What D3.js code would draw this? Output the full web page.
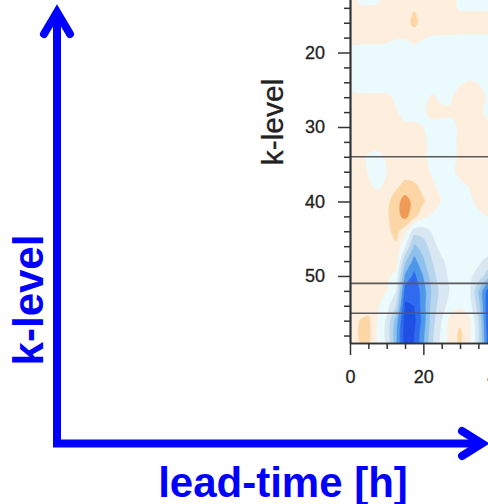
<!DOCTYPE html>
<html>
<head>
<meta charset="utf-8">
<script src="https://cdn.jsdelivr.net/npm/d3@7"></script>
<style>
  html, body { margin: 0; padding: 0; background: #ffffff; }
  svg { display: block; }
  text { font-family: "Liberation Sans", Arial, Helvetica, sans-serif; }
</style>
</head>
<body>
<svg id="chart" width="488" height="504"></svg>
<script>
// ---------------- data ----------------
const leadTimes = [0, 2.5, 5, 7.5, 10, 12.5, 15, 17.5, 20, 22.5, 25, 27.5, 30, 32.5, 35, 37.5, 40];
const kLevels = [12, 14, 16, 18, 20, 22, 24, 26, 28, 30, 32, 34, 36, 38, 40, 42, 44, 46, 48, 50, 52, 54, 56, 58, 60];
// anomaly field: one row per k-level, one value per lead time
const field = [
  [0.3, -0.3, -0.3, -0.3, 0.2, 0.3, 0.4, 0.4, 0.3, 0.3, 0.3, 0.2, -0.2, -0.3, -0.3, -0.3, -0.2], // k12
  [0.3, 0.1, 0.05, 0.1, 0.3, 0.4, 0.5, 0.9, 0.5, 0.4, 0.3, 0.2, -0.1, -0.1, -0.1, -0.1, 0.1],    // k14
  [0.4, 0.4, 0.4, 0.5, 0.5, 0.5, 0.5, 1.3, 0.5, 0.5, 0.5, 0.4, 0.3, 0.3, 0.3, 0.3, 0.3],          // k16
  [0.25, 0.25, 0.25, 0.25, 0.2, 0.05, 0.05, 0.3, 0.05, -0.1, -0.1, -0.1, -0.1, -0.1, -0.1, -0.1, -0.1], // k18
  [-0.3, -0.3, -0.35, -0.35, -0.35, -0.4, -0.4, -0.4, -0.4, -0.4, -0.4, -0.35, -0.35, -0.35, -0.35, -0.35, -0.35], // k20
  [-0.4, -0.4, -0.4, -0.4, -0.4, -0.4, -0.4, -0.4, -0.4, -0.4, -0.4, -0.4, -0.3, -0.3, -0.3, -0.4, -0.4], // k22
  [-0.2, -0.3, -0.3, -0.3, -0.3, -0.4, -0.4, -0.4, -0.4, -0.4, -0.3, -0.2, -0.1, 0.05, -0.05, -0.3, -0.3], // k24
  [0.1, 0.1, 0.1, 0.1, 0.1, -0.1, -0.3, -0.3, -0.2, 0.1, -0.2, -0.1, 0.3, 0.4, 0.3, -0.1, -0.2],  // k26
  [0.4, 0.4, 0.4, 0.35, 0.3, 0.05, -0.2, -0.2, -0.1, 0.2, 0.2, 0.1, 0.2, 0.2, 0.1, -0.1, -0.1],   // k28
  [0.4, 0.4, 0.4, 0.35, 0.2, 0.1, 0.1, 0.1, 0.0, -0.2, -0.3, -0.2, 0.1, 0.2, 0.2, 0.1, 0.1],      // k30
  [0.4, 0.3, 0.3, 0.3, 0.3, 0.3, 0.3, 0.2, 0.1, -0.2, -0.3, -0.2, 0.1, 0.3, 0.3, 0.3, 0.3],       // k32
  [0.4, 0.2, -0.1, -0.2, 0.1, 0.3, 0.3, 0.3, 0.1, -0.2, -0.3, -0.2, 0.1, 0.2, 0.3, 0.3, 0.3],     // k34
  [0.4, 0.3, -0.05, -0.2, 0.0, 0.3, 0.6, 0.5, 0.2, -0.1, -0.2, -0.1, 0.1, 0.2, 0.3, 0.3, 0.3],    // k36
  [0.4, 0.3, 0.1, -0.1, 0.1, 0.8, 1.3, 1.2, 0.7, 0.1, -0.2, -0.2, -0.1, 0.0, 0.2, 0.2, 0.2],      // k38
  [0.4, 0.4, 0.3, 0.3, 0.7, 1.5, 2.5, 1.6, 1.1, 0.6, -0.1, -0.3, -0.3, -0.1, 0.1, 0.1, 0.1],      // k40
  [0.4, 0.4, 0.3, 0.3, 0.8, 1.6, 2.3, 1.3, 0.2, -0.2, -0.2, -0.3, -0.3, -0.2, -0.1, 0.0, 0.0],    // k42
  [0.4, 0.4, 0.3, 0.3, 0.6, 1.4, 0.3, -1.6, -1.5, -0.9, -0.4, -0.3, -0.3, -0.2, -0.1, -0.1, 0.0], // k44
  [0.4, 0.4, 0.3, 0.3, 0.4, 0.8, -0.9, -3.2, -2.6, -1.4, -0.6, -0.4, -0.3, -0.3, -0.2, -0.3, -0.2], // k46
  [0.4, 0.4, 0.3, 0.3, 0.4, 0.5, -2.8, -4.4, -3.2, -2.0, -1.2, -0.6, -0.4, -0.5, -0.8, -1.3, -1.5], // k48
  [0.4, 0.4, 0.3, 0.2, 0.2, -0.3, -4.2, -5.3, -4.0, -2.4, -1.4, -0.8, -0.6, -0.8, -1.4, -2.5, -3.0], // k50
  [0.4, 0.4, 0.3, 0.2, 0.0, -1.0, -5.5, -5.8, -4.5, -2.8, -1.6, -0.9, -0.6, -0.8, -3.0, -5.4, -5.6], // k52
  [0.3, 0.6, 0.6, 0.1, -0.6, -2.0, -6.2, -6.0, -4.5, -2.6, -1.4, -0.6, -0.2, -0.5, -2.5, -5.8, -6.2], // k54
  [0.2, 1.0, 1.2, -0.1, -1.2, -3.5, -6.5, -6.3, -4.6, -2.4, -1.0, 0.4, 0.8, 0.2, -2.0, -5.8, -6.5], // k56
  [0.1, 1.1, 1.3, -0.2, -1.3, -3.8, -6.6, -6.0, -4.3, -2.2, -0.8, 0.5, 1.2, 0.3, -1.8, -5.5, -6.5], // k58
  [0.1, 0.8, 1.0, -0.2, -1.2, -3.8, -6.6, -6.0, -4.4, -2.0, -0.7, 0.3, 1.0, 0.2, -2.0, -5.5, -6.5]  // k60
];
const thresholds = [-6, -5, -4, -3, -2, -1, 0, 1, 2];
const bandColors = ["#2e6bef", "#4f97e8", "#8fc1ec", "#b7d6ee", "#d8e7f2", "#ebfafd", "#fdeedd", "#fcd6a4", "#ef9b57"];
const lowestColor = "#1f4fe3";
const refLevels = [34, 51, 55];
const xMajorTicks = [0, 20, 40];
const xMinorTicks = [5, 10, 15, 25, 30, 35];
const yMajorTicks = [20, 30, 40, 50];
const yMinorTicks = [2, 4, 6, 8, 10, 12, 14, 16, 18, 22, 24, 26, 28, 32, 34, 36, 38, 42, 44, 46, 48, 52, 54, 56, 58];

// ---------------- layout ----------------
const svg = d3.select("#chart");
const plot = { left: 350, bottom: 343, top: -89, right: 496.7 };
const x = d3.scaleLinear().domain([0, 40]).range([plot.left, plot.right]);
const y = d3.scaleLinear().domain([1, 59]).range([plot.top, plot.bottom]);

svg.append("defs").append("clipPath").attr("id", "plotClip")
  .append("rect")
  .attr("x", x(0)).attr("y", y(1))
  .attr("width", x(40) - x(0)).attr("height", y(59) - y(1));

const gPlot = svg.append("g").attr("clip-path", "url(#plotClip)");

gPlot.append("rect")
  .attr("x", x(0)).attr("y", y(1))
  .attr("width", x(40) - x(0)).attr("height", y(59) - y(1))
  .attr("fill", lowestColor);

const nx = leadTimes.length, ny = kLevels.length;
const dt = leadTimes[1] - leadTimes[0], dk = kLevels[1] - kLevels[0];
const contours = d3.contours().size([nx, ny]).thresholds(thresholds)(field.flat());
const gridX = u => x(leadTimes[0] + (u - 0.5) * dt);
const gridY = v => y(kLevels[0] + (v - 0.5) * dk);
const ringLine = d3.line().curve(d3.curveCatmullRomClosed.alpha(0.5));
const contourPath = c => c.coordinates
  .flatMap(poly => poly.map(ring => ringLine(ring.slice(0, -1).map(([u, v]) => [gridX(u), gridY(v)]))))
  .join("");

gPlot.selectAll("path.band").data(contours).join("path")
  .attr("class", "band")
  .attr("d", contourPath)
  .attr("fill", (d, i) => bandColors[i])
  .attr("stroke", (d, i) => bandColors[i])
  .attr("stroke-width", 0.5);

gPlot.selectAll("line.ref").data(refLevels).join("line")
  .attr("class", "ref")
  .attr("x1", x(0)).attr("x2", x(40))
  .attr("y1", d => y(d)).attr("y2", d => y(d))
  .attr("stroke", "#5a5a5a").attr("stroke-width", 1.6);

// ---------------- axes ----------------
const axisColor = "#333";
function styleAxis(g) {
  g.selectAll("path.domain").attr("stroke", axisColor).attr("stroke-width", 1.7);
  g.selectAll(".tick line").attr("stroke", axisColor).attr("stroke-width", 1.5);
  g.selectAll(".tick text").attr("fill", "#222").attr("font-size", 18)
    .attr("stroke", "#222").attr("stroke-width", 0.3)
    .style("font-family", '"Liberation Sans", Arial, sans-serif');
}

const yMinorG = svg.append("g").attr("transform", `translate(${plot.left},0)`)
  .call(d3.axisLeft(y).tickValues(yMinorTicks).tickSize(6).tickSizeOuter(0).tickFormat(""));
styleAxis(yMinorG);
const yMajorG = svg.append("g").attr("transform", `translate(${plot.left},0)`)
  .call(d3.axisLeft(y).tickValues(yMajorTicks).tickSize(12).tickSizeOuter(0).tickPadding(13));
styleAxis(yMajorG);

const xMinorG = svg.append("g").attr("transform", `translate(0,${plot.bottom})`)
  .call(d3.axisBottom(x).tickValues(xMinorTicks).tickSize(6).tickSizeOuter(0).tickFormat(""));
styleAxis(xMinorG);
const xMajorG = svg.append("g").attr("transform", `translate(0,${plot.bottom})`)
  .call(d3.axisBottom(x).tickValues(xMajorTicks).tickSize(12).tickSizeOuter(0).tickPadding(15));
styleAxis(xMajorG);

svg.append("text")
  .attr("transform", "translate(283,122) rotate(-90)")
  .attr("text-anchor", "middle")
  .attr("font-size", 30)
  .attr("fill", "#222").attr("stroke", "#222").attr("stroke-width", 0.3)
  .text("k-level");

// ---------------- blue overlay arrows ----------------
const blue = "#0000ff";
svg.append("path")
  .attr("d", "M57,12 V443.5 H482")
  .attr("fill", "none").attr("stroke", blue).attr("stroke-width", 8)
  .attr("stroke-linejoin", "miter").attr("stroke-linecap", "butt");
svg.append("path")
  .attr("d", "M44,34 L57,12 L70,34")
  .attr("fill", "none").attr("stroke", blue).attr("stroke-width", 8)
  .attr("stroke-linejoin", "miter").attr("stroke-linecap", "round");
svg.append("path")
  .attr("d", "M462,431 L482,443.5 L462,456")
  .attr("fill", "none").attr("stroke", blue).attr("stroke-width", 8)
  .attr("stroke-linejoin", "miter").attr("stroke-linecap", "round");

svg.append("text")
  .attr("transform", "translate(43,300) rotate(-90)")
  .attr("text-anchor", "middle")
  .attr("font-size", 42).attr("font-weight", "bold")
  .attr("fill", blue)
  .text("k-level");

svg.append("text")
  .attr("x", 283).attr("y", 497)
  .attr("text-anchor", "middle")
  .attr("font-size", 42).attr("font-weight", "bold")
  .attr("fill", blue)
  .text("lead-time [h]");
</script>
</body>
</html>
